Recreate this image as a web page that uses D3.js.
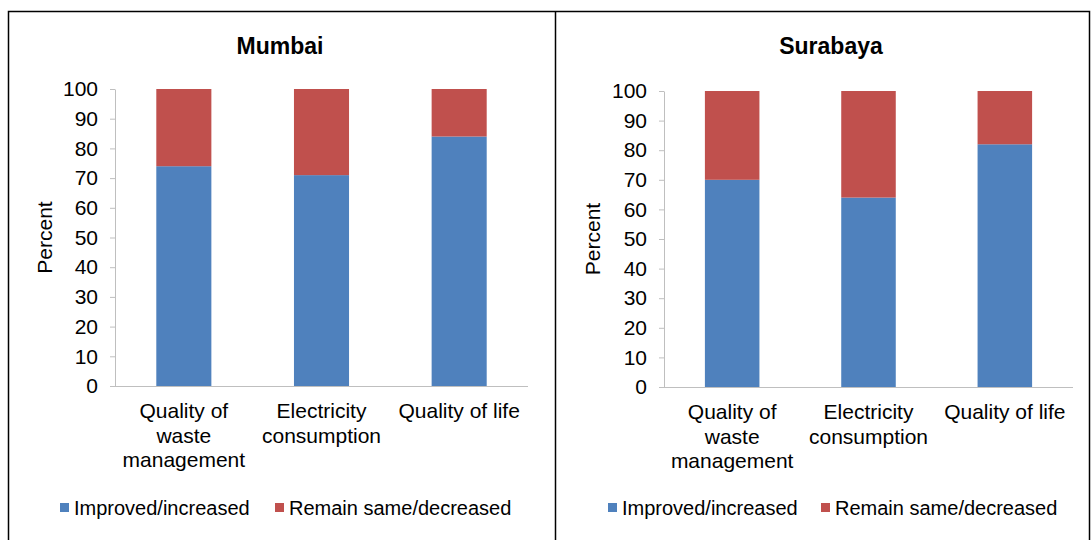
<!DOCTYPE html>
<html>
<head>
<meta charset="utf-8">
<script src="https://cdn.jsdelivr.net/npm/d3@7"></script>
<style>
  body { margin: 0; background: #fff; }
  svg { display: block; font-family: "Liberation Sans", Arial, sans-serif; }
</style>
</head>
<body>
<script>
let categories = ['Quality of waste management', 'Electricity consumption', 'Quality of life'];
let categoryLines = [['Quality of', 'waste', 'management'], ['Electricity', 'consumption'], ['Quality of life']];
let seriesNames = ['Improved/increased', 'Remain same/decreased'];
let seriesColors = ['#4f81bd', '#c0504d'];
let yTicks = [0, 10, 20, 30, 40, 50, 60, 70, 80, 90, 100];

let mumbaiImproved = [74, 71, 84];
let mumbaiRemain = [26, 29, 16];
let surabayaImproved = [70, 64, 82];
let surabayaRemain = [30, 36, 18];

let width = 1091, height = 540;

let svg = d3.select('body').append('svg')
    .attr('width', width)
    .attr('height', height);

// outer frame + divider
svg.append('rect')
    .attr('x', 8.5).attr('y', 11.5)
    .attr('width', 1081).attr('height', 540)
    .style('fill', 'none').style('stroke', '#000').style('stroke-width', 1.5);
svg.append('line')
    .attr('x1', 555.5).attr('x2', 555.5).attr('y1', 11).attr('y2', height)
    .style('stroke', '#000').style('stroke-width', 1.5);

function drawPanel(title, improved, remain, p) {
    let rows = categories.map((c, i) => ({cat: c, improved: improved[i], remain: remain[i]}));
    let stacked = d3.stack().keys(['improved', 'remain'])(rows);

    let x = d3.scaleBand().domain(categories).range([p.left, p.right]).paddingInner(0.6).paddingOuter(0.3);
    let y = d3.scaleLinear().domain([0, 100]).range([p.bottom, p.top]);

    let g = svg.append('g');

    g.append('text')
        .attr('x', p.titleX).attr('y', 54)
        .attr('text-anchor', 'middle')
        .style('font-weight', 'bold').style('font-size', '23px')
        .text(title);

    // y axis
    let yAxis = g.append('g')
        .attr('transform', 'translate(' + p.left + ',0)')
        .call(d3.axisLeft(y).tickValues(yTicks).tickSize(5).tickSizeOuter(0).tickPadding(12));
    yAxis.select('.domain').style('stroke', '#bfbfbf');
    yAxis.selectAll('.tick line').style('stroke', '#bfbfbf');
    yAxis.selectAll('.tick text').style('font-size', '21px').style('fill', '#000')
        .style('font-family', '"Liberation Sans", Arial, sans-serif');

    g.append('text')
        .attr('transform', 'translate(' + p.percentX + ',' + ((p.top + p.bottom) / 2) + ') rotate(-90)')
        .attr('text-anchor', 'middle')
        .attr('dy', '0.35em')
        .style('font-size', '21px')
        .text('Percent');

    // bars
    g.selectAll('.series').data(stacked).enter().append('g')
        .style('fill', (d, i) => seriesColors[i])
        .selectAll('rect').data(d => d).enter().append('rect')
        .attr('x', d => x(d.data.cat))
        .attr('width', x.bandwidth())
        .attr('y', d => y(d[1]))
        .attr('height', d => y(d[0]) - y(d[1]));

    // x axis line
    g.append('line')
        .attr('x1', p.left - 5).attr('x2', p.right)
        .attr('y1', p.bottom + 0.5).attr('y2', p.bottom + 0.5)
        .style('stroke', '#bfbfbf');

    // category labels
    categories.forEach((c, i) => {
        let t = g.append('text')
            .attr('x', x(c) + x.bandwidth() / 2)
            .attr('y', p.bottom + 32)
            .attr('text-anchor', 'middle')
            .style('font-size', '21px');
        categoryLines[i].forEach((line, j) => {
            t.append('tspan')
                .attr('x', x(c) + x.bandwidth() / 2)
                .attr('dy', j === 0 ? 0 : 24.5)
                .text(line);
        });
    });

    // legend
    let lg = g.append('g');
    seriesNames.forEach((name, i) => {
        let lx = p.legendX[i];
        lg.append('rect')
            .attr('x', lx).attr('y', 503)
            .attr('width', 9).attr('height', 9)
            .style('fill', seriesColors[i]);
        lg.append('text')
            .attr('x', lx + 14).attr('y', 515)
            .style('font-size', '20px')
            .text(name);
    });
}

drawPanel('Mumbai', mumbaiImproved, mumbaiRemain,
    {left: 115, right: 528, top: 89, bottom: 386, titleX: 280, percentX: 45, legendX: [60, 275]});
drawPanel('Surabaya', surabayaImproved, surabayaRemain,
    {left: 664, right: 1073, top: 91, bottom: 387, titleX: 831, percentX: 593, legendX: [608, 821]});
</script>
</body>
</html>
